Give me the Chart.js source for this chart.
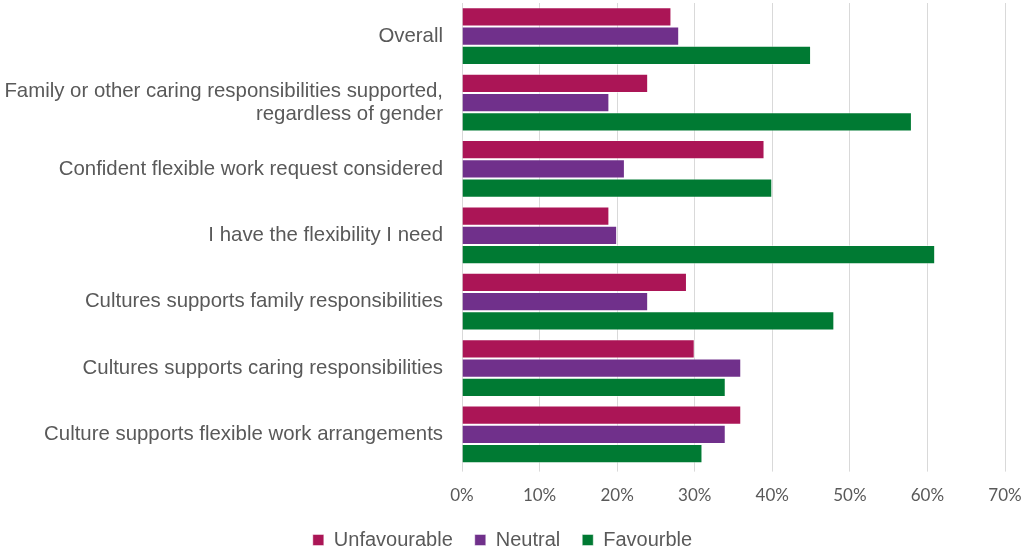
<!DOCTYPE html>
<html>
<head>
<meta charset="utf-8">
<script src="https://cdn.jsdelivr.net/npm/chart.js@4"></script>
<style>
  html, body { margin: 0; padding: 0; background: #fff; }
  #wrap { width: 1023px; height: 548px; position: relative; }
</style>
</head>
<body>
<div id="wrap"><canvas id="flex-chart"></canvas></div>
<script>
const categories = [
    'Overall',
    ['Family or other caring responsibilities supported,', 'regardless of gender'],
    'Confident flexible work request considered',
    'I have the flexibility I need',
    'Cultures supports family responsibilities',
    'Cultures supports caring responsibilities',
    'Culture supports flexible work arrangements'
];
const unfavourable = [27, 24, 39, 19, 29, 30, 36];
const neutral = [28, 19, 21, 20, 24, 36, 34];
const favourable = [45, 58, 40, 61, 48, 34, 31];

const ctx = document.getElementById('flex-chart').getContext('2d');
const myChart = new Chart(ctx, {
    type: 'bar',
    data: {
        labels: categories,
        datasets: [{
            label: 'Unfavourable',
            data: unfavourable,
            backgroundColor: '#ab1556',
            borderColor: 'rgba(255,255,255,0.45)',
            borderWidth: 1,
        }, {
            label: 'Neutral',
            data: neutral,
            backgroundColor: '#70308b',
            borderColor: 'rgba(255,255,255,0.45)',
            borderWidth: 1,
        }, {
            label: 'Favourble',
            data: favourable,
            backgroundColor: '#007a33',
            borderColor: 'rgba(255,255,255,0.45)',
            borderWidth: 1,
        }]
    },
    options: {
        indexAxis: 'y',
        responsive: true,
        maintainAspectRatio: false,
        animation: false,
        categoryPercentage: 0.87,
        barPercentage: 1.0,
        layout: { padding: { top: 3, right: 18, left: 0, bottom: -12 } },
        plugins: {
            tooltip: { enabled: false },
            legend: {
                position: 'bottom',
                labels: {
                    boxWidth: 11,
                    boxHeight: 11,
                    padding: 22,
                    color: '#595959',
                    font: { family: 'Liberation Sans', size: 20 }
                }
            }
        },
        scales: {
            x: {
                min: 0,
                max: 70,
                afterFit: scale => {
                    scale.paddingRight = 0;
                    scale.paddingLeft = 0;
                    scale.height -= 12;
                },
                ticks: {
                    stepSize: 10,
                    color: '#595959',
                    padding: 14,
                    font: { family: 'Lato', size: 17 },
                    callback: v => v + '%'
                },
                grid: { color: '#d9d9d9', lineWidth: 1, tickLength: 4 },
                border: { display: false }
            },
            y: {
                afterFit: scale => {
                    scale.width = 462;
                    scale.paddingTop = 0;
                    scale.paddingBottom = 0;
                },
                ticks: {
                    color: '#595959',
                    padding: 11,
                    font: { family: 'Liberation Sans', size: 20.4, lineHeight: 1.13 }
                },
                grid: { display: false },
                border: { display: false }
            }
        }
    }
});
</script>
</body>
</html>
